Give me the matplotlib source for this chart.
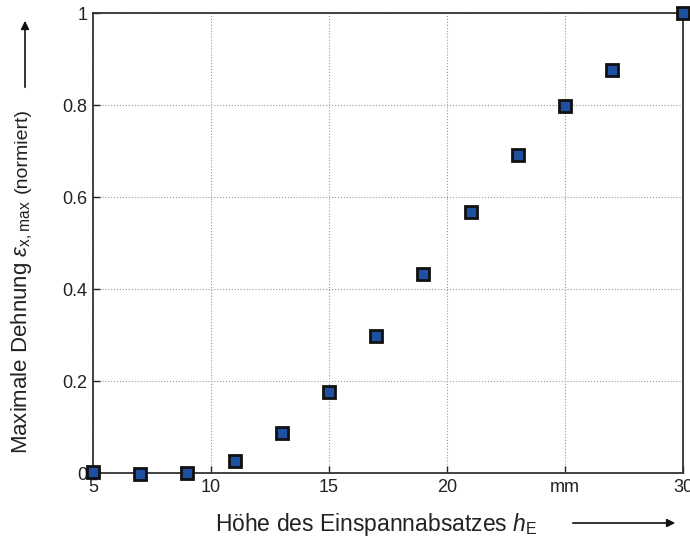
import numpy as np
import matplotlib
matplotlib.use('Agg')
import matplotlib.pyplot as plt
from matplotlib.patches import FancyArrowPatch

# Data
hoehe = [5, 7, 9, 11, 13, 15, 17, 19, 21, 23, 25, 27, 30]
dehnung = [0.002, -0.002, 0.0, 0.026, 0.087, 0.176, 0.298, 0.433, 0.567, 0.691, 0.798, 0.876, 1.0]
x_ticks = [5, 10, 15, 20, 25, 30]
x_ticklabels = ['5', '10', '15', '20', 'mm', '30']
y_ticks = [0, 0.2, 0.4, 0.6, 0.8, 1]
y_ticklabels = ['0', '0.2', '0.4', '0.6', '0.8', '1']

plt.rcParams['font.family'] = ['Liberation Sans', 'DejaVu Sans']
plt.rcParams['mathtext.fontset'] = 'custom'
plt.rcParams['mathtext.it'] = 'Liberation Sans:italic'
plt.rcParams['mathtext.rm'] = 'Liberation Sans'

W, H = 690, 542
fig = plt.figure(figsize=(W / 100, H / 100), dpi=100)
ax = fig.add_axes([93 / W, 1 - 473 / H, 590 / W, 460 / H])

ax.plot(hoehe, dehnung, linestyle='none', marker='s', markersize=8.8,
        markerfacecolor='#1f4fa0', markeredgecolor='#111111', markeredgewidth=2,
        clip_on=False, zorder=5)

ax.set_xlim(5, 30)
ax.set_ylim(0, 1)
ax.set_xticks(x_ticks)
ax.set_xticklabels(x_ticklabels)
ax.set_yticks(y_ticks)
ax.set_yticklabels(y_ticklabels)
ax.tick_params(direction='in', length=5, width=1, labelsize=13, colors='#222222', pad=4)
ax.grid(True, linestyle=':', color='#999999', linewidth=0.8)
for s in ax.spines.values():
    s.set_linewidth(1.3)
    s.set_color('#333333')

# y label: main part + smaller "(normiert)"
ylab = fig.text(22 / W, 1 - 454 / H, r'Maximale Dehnung $\varepsilon_{\mathrm{x,max}}$',
                rotation=90, rotation_mode='anchor', ha='left', va='center',
                fontsize=16, color='#222222')
fig.canvas.draw()
bb = ylab.get_window_extent(renderer=fig.canvas.get_renderer())
fig.text(22 / W, (bb.y1 + 7) / H, '(normiert)',
         rotation=90, rotation_mode='anchor', ha='left', va='center',
         fontsize=14, color='#222222')

fig.text(376 / W, 1 - 525 / H, r'Höhe des Einspannabsatzes $h_{\mathrm{E}}$',
         ha='center', va='center', fontsize=16.5, color='#222222')

# arrows next to the axis labels
fig.add_artist(FancyArrowPatch(
    (25 / W, 1 - 90 / H), (25 / W, 1 - 18 / H), transform=fig.transFigure,
    arrowstyle='-|>', mutation_scale=12, color='#111111', linewidth=1.2))
fig.add_artist(FancyArrowPatch(
    (570 / W, 1 - 523 / H), (678 / W, 1 - 523 / H), transform=fig.transFigure,
    arrowstyle='-|>', mutation_scale=12, color='#111111', linewidth=1.2))

plt.savefig('out.png', dpi=100)
plt.close()
